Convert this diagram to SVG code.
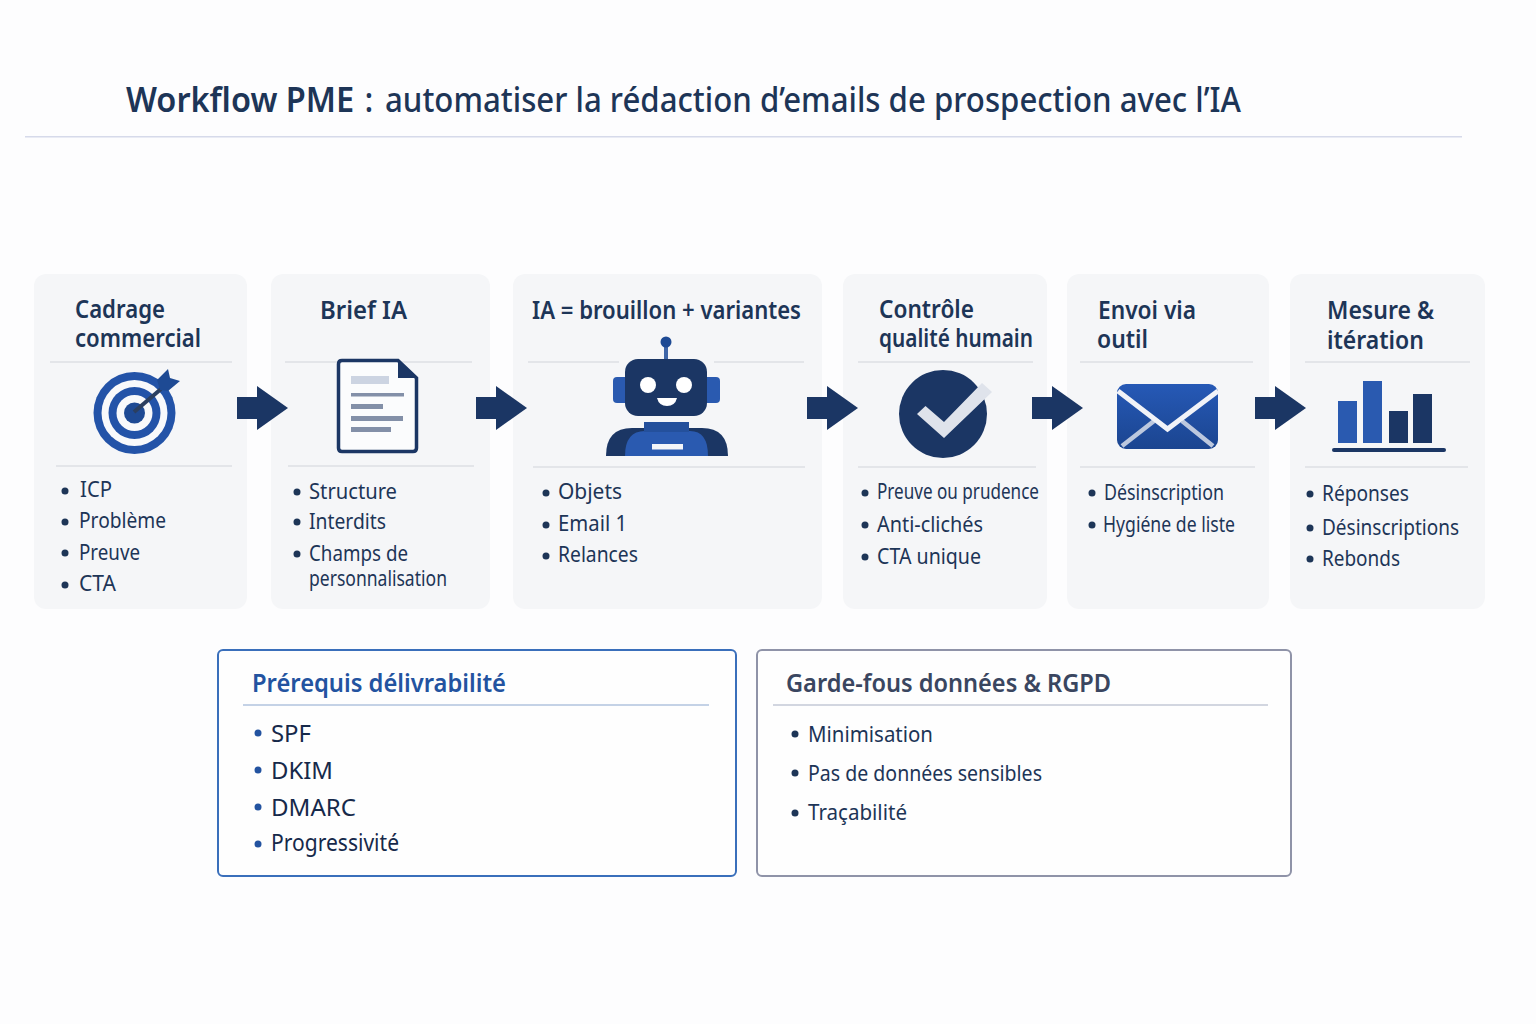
<svg xmlns="http://www.w3.org/2000/svg" width="1536" height="1024" viewBox="0 0 1536 1024">
<style>
text{font-family:"Noto Sans","Liberation Sans",sans-serif}
.h{font-size:35px;fill:#1d3557}
.ct{font-size:25px;font-weight:600;fill:#1d3557}
.b{font-size:21px;fill:#1d3557}
.b2{font-size:24px;fill:#16294a}
.b3{font-size:22px;fill:#1d3557}
.card{fill:#f5f6f8}
.sep{stroke:#dcdfe5;stroke-width:1.5}
.dot{fill:#1d3557}
.conn{stroke:#1b3664;stroke-width:22;marker-end:url(#head)}
.navy{fill:#1b3664}
.blue{fill:#2a5ab0}
.rule{fill:#8390a8}
</style>
<defs>
<marker id="head" viewBox="0 0 31 44" refX="1" refY="22" markerWidth="31" markerHeight="44" markerUnits="userSpaceOnUse" orient="auto"><polygon points="0,0 31,22 0,44" fill="#1b3664"/></marker>
<linearGradient id="env" x1="0" y1="0" x2="0" y2="1"><stop offset="0" stop-color="#2659b6"/><stop offset="1" stop-color="#1b4590"/></linearGradient>
</defs>
<rect width="1536" height="1024" fill="#fdfdfe"/>
<g id="title">
<text class="h" transform="translate(126 112) scale(.929 1)" font-weight="600">Workflow PME<tspan dx="2" font-weight="500"> :</tspan></text>
<text class="h" x="385" y="112" font-weight="500" textLength="856" lengthAdjust="spacingAndGlyphs">automatiser la rédaction d’emails de prospection avec l’IA</text>
<rect x="25" y="136" width="1437" height="1.5" fill="#d6daea"/>
</g>
<g id="card-cadrage">
<rect class="card" x="34" y="274" width="213" height="335" rx="12"/>
<text class="ct" x="75" y="318" textLength="90" lengthAdjust="spacingAndGlyphs">Cadrage</text>
<text class="ct" x="75" y="347" textLength="126" lengthAdjust="spacingAndGlyphs">commercial</text>
<line class="sep" x1="50" y1="362" x2="232" y2="362"/>
<circle cx="134.500" cy="413" r="41" fill="#2353a8"/>
<circle cx="134.500" cy="413" r="33" fill="#f8f9fb"/>
<circle cx="134.500" cy="413" r="26" fill="#2353a8"/>
<circle cx="134.500" cy="413" r="18" fill="#f8f9fb"/>
<circle cx="134.500" cy="413" r="10.500" fill="#1e4a94"/>
<line x1="134" y1="412" x2="161" y2="389" stroke="#2b3f60" stroke-width="4"/>
<polygon points="157,380 168,369 170,378 180,381 168,391 160,390" fill="#1e4a94"/>
<line class="sep" x1="56" y1="466" x2="232" y2="466"/>
<circle class="dot" cx="65" cy="491" r="3.5"/><text class="b" x="80" y="497" textLength="32" lengthAdjust="spacingAndGlyphs">ICP</text>
<circle class="dot" cx="65" cy="522" r="3.5"/><text class="b" x="79" y="528" textLength="87" lengthAdjust="spacingAndGlyphs">Problème</text>
<circle class="dot" cx="65" cy="553" r="3.5"/><text class="b" x="79" y="560" textLength="61" lengthAdjust="spacingAndGlyphs">Preuve</text>
<circle class="dot" cx="65" cy="585" r="3.5"/><text class="b" x="79" y="591" textLength="37" lengthAdjust="spacingAndGlyphs">CTA</text>
</g>
<g id="card-brief">
<rect class="card" x="271" y="274" width="219" height="335" rx="12"/>
<text class="ct" x="320" y="319" textLength="87" lengthAdjust="spacingAndGlyphs">Brief IA</text>
<line class="sep" x1="285" y1="362" x2="472" y2="362"/>
<path d="M398 360.500H342Q338.500 360.500 338.500 364V448Q338.500 451.500 342 451.500H413Q416.500 451.500 416.500 448V378Z" fill="#fbfcfd" stroke="#1b3664" stroke-width="3.5"/>
<path d="M398 360L417 378H398Z" class="navy"/>
<rect x="351" y="376" width="38" height="8" fill="#ccd4e2"/>
<rect class="rule" x="351" y="393" width="53" height="3.500"/>
<rect class="rule" x="351" y="404" width="32" height="5"/>
<rect class="rule" x="351" y="416" width="52" height="5"/>
<rect class="rule" x="351" y="427" width="40" height="5"/>
<line class="sep" x1="288" y1="466" x2="474" y2="466"/>
<circle class="dot" cx="297" cy="492" r="3.5"/><text class="b" x="309" y="499" textLength="88" lengthAdjust="spacingAndGlyphs">Structure</text>
<circle class="dot" cx="297" cy="522" r="3.5"/><text class="b" x="309" y="529" textLength="77" lengthAdjust="spacingAndGlyphs">Interdits</text>
<circle class="dot" cx="297" cy="554" r="3.5"/><text class="b" x="309" y="561" textLength="99" lengthAdjust="spacingAndGlyphs">Champs de</text>
<text class="b" x="309" y="586" textLength="138" lengthAdjust="spacingAndGlyphs">personnalisation</text>
</g>
<g id="card-ia">
<rect class="card" x="513" y="274" width="309" height="335" rx="12"/>
<text class="ct" x="532" y="319" textLength="269" lengthAdjust="spacingAndGlyphs">IA = brouillon + variantes</text>
<line class="sep" x1="528" y1="362" x2="619" y2="362"/>
<line class="sep" x1="714" y1="362" x2="804" y2="362"/>
<line x1="666" y1="345" x2="666" y2="360" stroke="#3f66a8" stroke-width="4"/>
<circle cx="666" cy="342" r="5.500" fill="#1e4a94"/>
<rect class="blue" x="613" y="377" width="16" height="26" rx="4"/>
<rect class="blue" x="703" y="377" width="17" height="26" rx="4"/>
<rect class="navy" x="625" y="359" width="82" height="57" rx="13"/>
<circle cx="648" cy="385" r="8" fill="#fff"/>
<circle cx="684" cy="385" r="8" fill="#fff"/>
<path d="M657 398H677Q675 406 667 406Q659 406 657 398Z" fill="#fff"/>
<path d="M606 456Q606 428 632 428H702Q728 428 728 456Z" class="navy"/>
<path d="M625 456Q625 431 645 431H690Q708 431 708 456Z" class="blue"/>
<rect x="644" y="422" width="45" height="10" fill="#24509c"/>
<rect x="652" y="444" width="31" height="5.500" fill="#f3f5f9"/>
<line class="sep" x1="533" y1="467" x2="805" y2="467"/>
<circle class="dot" cx="546" cy="493" r="3.5"/><text class="b" x="558" y="499" textLength="64" lengthAdjust="spacingAndGlyphs">Objets</text>
<circle class="dot" cx="546" cy="525" r="3.5"/><text class="b" x="558" y="531" textLength="69" lengthAdjust="spacingAndGlyphs">Email 1</text>
<circle class="dot" cx="546" cy="556" r="3.5"/><text class="b" x="558" y="562" textLength="80" lengthAdjust="spacingAndGlyphs">Relances</text>
</g>
<g id="card-controle">
<rect class="card" x="843" y="274" width="204" height="335" rx="12"/>
<text class="ct" x="879" y="318" textLength="95" lengthAdjust="spacingAndGlyphs">Contrôle</text>
<text class="ct" x="879" y="347" textLength="154" lengthAdjust="spacingAndGlyphs">qualité humain</text>
<line class="sep" x1="858" y1="362" x2="1033" y2="362"/>
<circle class="navy" cx="943" cy="414" r="44"/>
<polygon points="917,414 925.500,406 944,422 982,383 992,392 944,438" fill="#dfe3eb"/>
<line class="sep" x1="858" y1="467" x2="1036" y2="467"/>
<circle class="dot" cx="865" cy="493" r="3.5"/><text class="b" x="877" y="499" textLength="162" lengthAdjust="spacingAndGlyphs">Preuve ou prudence</text>
<circle class="dot" cx="865" cy="525" r="3.5"/><text class="b" x="877" y="532" textLength="106" lengthAdjust="spacingAndGlyphs">Anti-clichés</text>
<circle class="dot" cx="865" cy="557" r="3.5"/><text class="b" x="877" y="564" textLength="104" lengthAdjust="spacingAndGlyphs">CTA unique</text>
</g>
<g id="card-envoi">
<rect class="card" x="1067" y="274" width="202" height="335" rx="12"/>
<text class="ct" x="1098" y="319" textLength="98" lengthAdjust="spacingAndGlyphs">Envoi via</text>
<text class="ct" x="1097" y="348" textLength="51" lengthAdjust="spacingAndGlyphs">outil</text>
<line class="sep" x1="1080" y1="362" x2="1253" y2="362"/>
<rect x="1117" y="384" width="101" height="65" rx="9" fill="url(#env)"/>
<path d="M1122 446L1154 421M1213 446L1182 421" stroke="#bcc8de" stroke-width="4.500" fill="none"/>
<path d="M1118 391L1167.500 429L1218 391" stroke="#f1f3f8" stroke-width="5" fill="none"/>
<line class="sep" x1="1080" y1="467" x2="1255" y2="467"/>
<circle class="dot" cx="1092" cy="493" r="3.5"/><text class="b" x="1104" y="500" textLength="120" lengthAdjust="spacingAndGlyphs">Désinscription</text>
<circle class="dot" cx="1092" cy="525" r="3.5"/><text class="b" x="1103" y="532" textLength="132" lengthAdjust="spacingAndGlyphs">Hygiéne de liste</text>
</g>
<g id="card-mesure">
<rect class="card" x="1290" y="274" width="195" height="335" rx="12"/>
<text class="ct" x="1327" y="319" textLength="107" lengthAdjust="spacingAndGlyphs">Mesure &amp;</text>
<text class="ct" x="1327" y="349" textLength="97" lengthAdjust="spacingAndGlyphs">itération</text>
<line class="sep" x1="1305" y1="362" x2="1470" y2="362"/>
<rect class="blue" x="1338" y="401" width="19" height="42"/>
<rect class="blue" x="1363" y="381" width="19" height="62"/>
<rect class="navy" x="1389" y="411" width="19" height="32"/>
<rect class="navy" x="1413" y="394" width="19" height="49"/>
<rect class="navy" x="1332" y="448" width="114" height="4" rx="2"/>
<line class="sep" x1="1305" y1="467" x2="1468" y2="467"/>
<circle class="dot" cx="1310" cy="494" r="3.5"/><text class="b" x="1322" y="501" textLength="87" lengthAdjust="spacingAndGlyphs">Réponses</text>
<circle class="dot" cx="1310" cy="528" r="3.5"/><text class="b" x="1322" y="535" textLength="137" lengthAdjust="spacingAndGlyphs">Désinscriptions</text>
<circle class="dot" cx="1310" cy="559" r="3.5"/><text class="b" x="1322" y="566" textLength="78" lengthAdjust="spacingAndGlyphs">Rebonds</text>
</g>
<g id="box-delivrabilite">
<rect x="218" y="650" width="518" height="226" rx="5" fill="#fefefe" stroke="#3a6fbb" stroke-width="2"/>
<text x="252" y="692" font-size="26" font-weight="600" fill="#2353a0" textLength="254" lengthAdjust="spacingAndGlyphs">Prérequis délivrabilité</text>
<line x1="243" y1="705" x2="709" y2="705" stroke="#b0c3de" stroke-width="1.5"/>
<circle cx="258" cy="733" r="3.5" fill="#2353a0"/><text class="b2" x="271" y="742" textLength="40" lengthAdjust="spacingAndGlyphs">SPF</text>
<circle cx="258" cy="770" r="3.5" fill="#2353a0"/><text class="b2" x="271" y="779" textLength="62" lengthAdjust="spacingAndGlyphs">DKIM</text>
<circle cx="258" cy="807" r="3.5" fill="#2353a0"/><text class="b2" x="271" y="816" textLength="85" lengthAdjust="spacingAndGlyphs">DMARC</text>
<circle cx="258" cy="844" r="3.5" fill="#2353a0"/><text class="b2" x="271" y="851" textLength="128" lengthAdjust="spacingAndGlyphs">Progressivité</text>
</g>
<g id="box-rgpd">
<rect x="757" y="650" width="534" height="226" rx="5" fill="#fefefe" stroke="#8f93a8" stroke-width="2"/>
<text x="786" y="692" font-size="26" font-weight="600" fill="#3a4660" textLength="325" lengthAdjust="spacingAndGlyphs">Garde-fous données &amp; RGPD</text>
<line x1="773" y1="705" x2="1268" y2="705" stroke="#c3c8d6" stroke-width="1.5"/>
<circle class="dot" cx="795" cy="734" r="3.5"/><text class="b3" x="808" y="742" textLength="125" lengthAdjust="spacingAndGlyphs">Minimisation</text>
<circle class="dot" cx="795" cy="773" r="3.5"/><text class="b3" x="808" y="781" textLength="234" lengthAdjust="spacingAndGlyphs">Pas de données sensibles</text>
<circle class="dot" cx="795" cy="813" r="3.5"/><text class="b3" x="808" y="820" textLength="99" lengthAdjust="spacingAndGlyphs">Traçabilité</text>
</g>
<g id="connectors">
<line class="conn" x1="237" y1="408" x2="258" y2="408"/>
<line class="conn" x1="476" y1="408" x2="497" y2="408"/>
<line class="conn" x1="807" y1="408" x2="828" y2="408"/>
<line class="conn" x1="1032" y1="408" x2="1053" y2="408"/>
<line class="conn" x1="1255" y1="408" x2="1276" y2="408"/>
</g>
</svg>
